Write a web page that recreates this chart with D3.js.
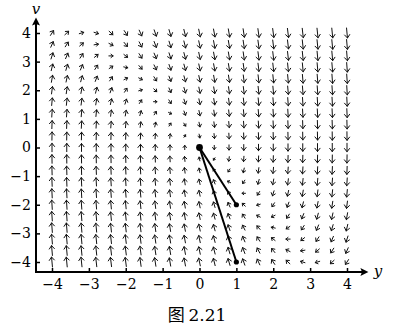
<!DOCTYPE html>
<html>
<head>
<meta charset="utf-8">
<script src="https://cdn.jsdelivr.net/npm/d3@7"></script>
<style>
  body { margin: 0; background: #fff; }
  svg { display: block; }
</style>
</head>
<body>
<script>
// axis ticks
var yTicks = [-4, -3, -2, -1, 0, 1, 2, 3, 4];
var vTicks = [-4, -3, -2, -1, 0, 1, 2, 3, 4];

// sample points of the direction field
var gridY = [-4, -3.6, -3.2, -2.8, -2.4, -2, -1.6, -1.2, -0.8, -0.4, 0, 0.4, 0.8, 1.2, 1.6, 2, 2.4, 2.8, 3.2, 3.6, 4];
var gridV = [-4, -3.6, -3.2, -2.8, -2.4, -2, -1.6, -1.2, -0.8, -0.4, 0, 0.4, 0.8, 1.2, 1.6, 2, 2.4, 2.8, 3.2, 3.6, 4];

// system dy/dt = v, dv/dt = -k y - b v   (k, b)
var coef = [8, 6];

// straight line solutions drawn from origin
var lineStart = [0, 0];
var lineEnds = [[1, -2], [1, -4]];

var W = 415, H = 334;

var svg = d3.select("body").append("svg")
            .attr("width", W)
            .attr("height", H);

var x = d3.scaleLinear().domain([-4, 4]).range([52, 347]);
var y = d3.scaleLinear().domain([-4, 4]).range([262, 33]);

var axX = 36, axY = 272;

var defs = svg.append("defs");
defs.append("marker")
    .attr("id", "axhead")
    .attr("viewBox", "0 0 10 10")
    .attr("refX", 2).attr("refY", 5)
    .attr("markerWidth", 5).attr("markerHeight", 4)
    .attr("markerUnits", "strokeWidth")
    .attr("orient", "auto")
  .append("path")
    .attr("d", "M0,0 L10,5 L0,10 L2,5 Z")
    .attr("fill", "#000");

// field arrows
var pts = [];
gridY.forEach(function(a){
    gridV.forEach(function(b){
        var f1 = b;
        var f2 = -coef[0] * a - coef[1] * b;
        pts.push({ y: a, v: b, f1: f1, f2: f2, m: Math.sqrt(f1 * f1 + f2 * f2) });
    });
});

var maxM = d3.max(pts, d => d.m);
var len = d3.scalePow().exponent(0.3).domain([0, maxM]).range([0, 10]);

var field = svg.append("g")
               .attr("fill", "none")
               .attr("stroke", "#111")
               .attr("stroke-width", 1)
               .attr("stroke-linecap", "round")
               .attr("stroke-linejoin", "round");

field.selectAll("path")
     .data(pts)
     .enter()
     .append("path")
     .attr("d", function(d){
         var cx = x(d.y), cy = y(d.v);
         if (d.m === 0) return "M" + cx + "," + cy + "h0";
         var dx = d.f1 * (x(1) - x(0));
         var dy = d.f2 * (y(1) - y(0));
         var n = Math.sqrt(dx * dx + dy * dy);
         var ux = dx / n, uy = dy / n;
         var L = len(d.m);
         var tx = cx - ux * L / 2, ty = cy - uy * L / 2;
         var hx = cx + ux * L / 2, hy = cy + uy * L / 2;
         var h = Math.min(3.2, L * 0.5);
         var w = h * 0.8;
         var bx = hx - ux * h, by = hy - uy * h;
         return "M" + tx + "," + ty + "L" + hx + "," + hy +
                "M" + (bx - uy * w) + "," + (by + ux * w) + "L" + hx + "," + hy +
                "L" + (bx + uy * w) + "," + (by - ux * w);
     });

// straight line solutions
var sol = svg.append("g");
sol.selectAll("line")
   .data(lineEnds)
   .enter()
   .append("line")
   .attr("x1", x(lineStart[0])).attr("y1", y(lineStart[1]))
   .attr("x2", d => x(d[0])).attr("y2", d => y(d[1]))
   .attr("stroke", "#000")
   .attr("stroke-width", 2);
sol.selectAll("circle.end")
   .data(lineEnds)
   .enter()
   .append("circle")
   .attr("class", "end")
   .attr("cx", d => x(d[0])).attr("cy", d => y(d[1]))
   .attr("r", 2.6)
   .attr("fill", "#000");
sol.append("circle")
   .attr("cx", x(lineStart[0])).attr("cy", y(lineStart[1]))
   .attr("r", 3.4)
   .attr("fill", "#000");

// axes
var font = "DejaVu Serif, Liberation Serif, serif";

var xAxis = svg.append("g")
               .attr("transform", "translate(0," + axY + ")")
               .call(d3.axisBottom(x).tickValues(yTicks)
                       .tickSizeInner(-4).tickSizeOuter(0).tickPadding(7)
                       .tickFormat(d => d < 0 ? "\u2212" + Math.abs(d) : d));
var vAxis = svg.append("g")
               .attr("transform", "translate(" + axX + ",0)")
               .call(d3.axisLeft(y).tickValues(vTicks)
                       .tickSizeInner(-4).tickSizeOuter(0).tickPadding(5)
                       .tickFormat(d => d < 0 ? "\u2212" + Math.abs(d) : d));

[xAxis, vAxis].forEach(function(g){
    g.attr("font-family", font).attr("font-size", 14);
    g.select(".domain").remove();
    g.selectAll(".tick line").attr("stroke", "#000").attr("stroke-width", 1.5);
    g.selectAll(".tick text").attr("fill", "#000");
});

svg.append("line")
   .attr("x1", axX - 1).attr("y1", axY)
   .attr("x2", 362).attr("y2", axY)
   .attr("stroke", "#000").attr("stroke-width", 2)
   .attr("marker-end", "url(#axhead)");
svg.append("line")
   .attr("x1", axX).attr("y1", axY + 1)
   .attr("x2", axX).attr("y2", 24)
   .attr("stroke", "#000").attr("stroke-width", 2)
   .attr("marker-end", "url(#axhead)");

svg.append("text")
   .attr("x", 378).attr("y", 276)
   .attr("text-anchor", "middle")
   .attr("font-family", font)
   .attr("font-style", "italic")
   .attr("font-size", 15)
   .text("y");
svg.append("text")
   .attr("x", axX).attr("y", 14)
   .attr("text-anchor", "middle")
   .attr("font-family", font)
   .attr("font-style", "italic")
   .attr("font-size", 15)
   .text("v");

// caption
var cap = svg.append("text")
             .attr("x", 197).attr("y", 321)
             .attr("text-anchor", "middle")
             .attr("font-size", 17);
cap.append("tspan")
   .attr("font-family", "Noto Sans CJK SC, sans-serif")
   .text("图 ");
cap.append("tspan")
   .attr("font-family", font)
   .text("2.21");
</script>
</body>
</html>
